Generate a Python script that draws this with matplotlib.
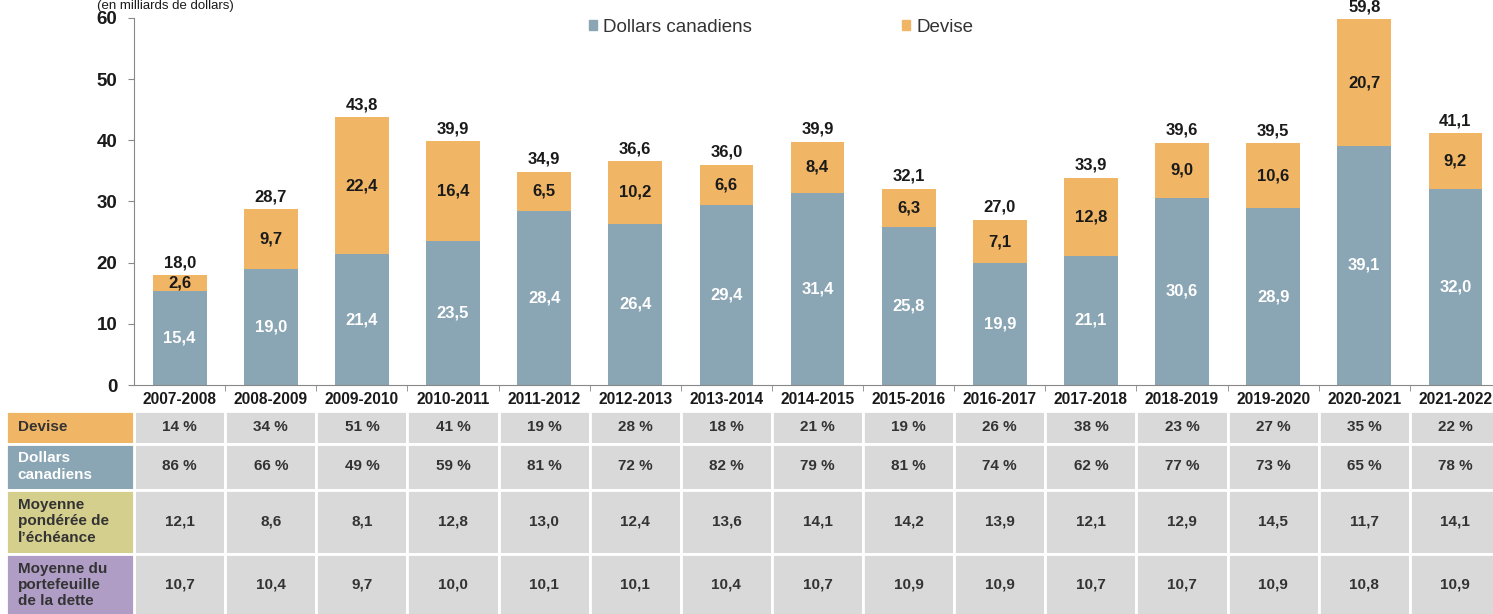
import numpy as np
import matplotlib
matplotlib.use('Agg')
import matplotlib.pyplot as plt
from matplotlib.patches import Patch, Rectangle

plt.rcParams['font.family'] = ['Liberation Sans', 'DejaVu Sans']

# ---------------------------------------------------------------------------
# Data
# ---------------------------------------------------------------------------
years = ['2007-2008', '2008-2009', '2009-2010', '2010-2011', '2011-2012',
         '2012-2013', '2013-2014', '2014-2015', '2015-2016', '2016-2017',
         '2017-2018', '2018-2019', '2019-2020', '2020-2021', '2021-2022']
cad = [15.4, 19.0, 21.4, 23.5, 28.4, 26.4, 29.4, 31.4, 25.8, 19.9,
       21.1, 30.6, 28.9, 39.1, 32.0]
devise = [2.6, 9.7, 22.4, 16.4, 6.5, 10.2, 6.6, 8.4, 6.3, 7.1,
          12.8, 9.0, 10.6, 20.7, 9.2]
totals = [18.0, 28.7, 43.8, 39.9, 34.9, 36.6, 36.0, 39.9, 32.1, 27.0,
          33.9, 39.6, 39.5, 59.8, 41.1]

pct_devise = [14, 34, 51, 41, 19, 28, 18, 21, 19, 26, 38, 23, 27, 35, 22]
pct_cad = [86, 66, 49, 59, 81, 72, 82, 79, 81, 74, 62, 77, 73, 65, 78]
echeance = [12.1, 8.6, 8.1, 12.8, 13.0, 12.4, 13.6, 14.1, 14.2, 13.9,
            12.1, 12.9, 14.5, 11.7, 14.1]
portefeuille = [10.7, 10.4, 9.7, 10.0, 10.1, 10.1, 10.4, 10.7, 10.9, 10.9,
                10.7, 10.7, 10.9, 10.8, 10.9]

row_labels = ['Devise', 'Dollars\ncanadiens',
              'Moyenne\npondérée de\nl\u2019échéance',
              'Moyenne du\nportefeuille\nde la dette']

C_CAD = '#8aa5b3'
C_DEV = '#f0b665'
C_CELL = '#d9d9d9'
HEAD_COLORS = [C_DEV, C_CAD, '#d5cf8e', '#af9dc6']
HEAD_TEXT = ['#333333', 'white', '#333333', '#333333']
TXT = '#1a1a1a'

fmt = lambda v: f'{v:.1f}'.replace('.', ',')

# ---------------------------------------------------------------------------
# Figure geometry (pixels -> fractions)
# ---------------------------------------------------------------------------
W, H = 1493, 614
fig = plt.figure(figsize=(W / 100, H / 100), dpi=100)

x0_px, x1_px = 134.1, 1501.0
y0_px, y60_px = 385.0, 18.0
ax = fig.add_axes([x0_px / W, 1 - y0_px / H,
                   (x1_px - x0_px) / W, (y0_px - y60_px) / H])

x = np.arange(len(years))
bw = 0.59
ax.bar(x, cad, width=bw, color=C_CAD, zorder=2)
ax.bar(x, devise, width=bw, bottom=cad, color=C_DEV, zorder=2)

for i in range(len(years)):
    ax.text(x[i], cad[i] / 2, fmt(cad[i]), ha='center', va='center',
            color='white', fontsize=12, fontweight='bold', zorder=3)
    ax.text(x[i], cad[i] + devise[i] / 2, fmt(devise[i]), ha='center',
            va='center', color=TXT, fontsize=12, fontweight='bold', zorder=3)
    ax.annotate(fmt(totals[i]), (x[i], totals[i]), xytext=(0, 3.5),
                textcoords='offset points', ha='center', va='bottom',
                color=TXT, fontsize=12, fontweight='bold',
                annotation_clip=False)

ax.set_xlim(-0.5, len(years) - 0.5)
ax.set_ylim(0, 60)
ax.set_yticks(np.arange(0, 61, 10))
ax.tick_params(axis='y', labelsize=13.5, length=4, color='#888888',
               pad=8, labelcolor=TXT)
for lab in ax.get_yticklabels():
    lab.set_fontweight('bold')
ax.set_xticks(x)
ax.set_xticklabels(years, fontsize=11.2, fontweight='bold', color=TXT)
ax.tick_params(axis='x', length=0, pad=5)
ax.set_xticks(x[:-1] + 0.5, minor=True)
ax.tick_params(axis='x', which='minor', length=4, color='#888888')
for s in ['top', 'right']:
    ax.spines[s].set_visible(False)
for s in ['left', 'bottom']:
    ax.spines[s].set_color('#888888')

# units label at the top-left corner
fig.text(97 / W, 1 - 0.5 / H, '(en milliards de dollars)', ha='left',
         va='top', fontsize=9.5, color=TXT)

# legend
handles = [Patch(color=C_CAD, label='Dollars canadiens'),
           Patch(color=C_DEV, label='Devise')]
fig.legend(handles=handles, loc='center left',
           bbox_to_anchor=(589 / W, 1 - 27 / H), ncol=2, frameon=False,
           fontsize=13.5, handlelength=0.45, handleheight=0.45,
           handletextpad=0.3, columnspacing=8.0, labelcolor='#333333',
           borderaxespad=0, borderpad=0)

# ---------------------------------------------------------------------------
# Table under the chart (same x scale as the bars)
# ---------------------------------------------------------------------------
t_left_px, t_top_px = 6.0, 411.0
unit = (x1_px - x0_px) / len(years)
tab = fig.add_axes([t_left_px / W, 0, (x1_px - t_left_px) / W,
                    1 - t_top_px / H])
tab.set_xlim(-0.5 - (x0_px - t_left_px) / unit, len(years) - 0.5)
tab.set_ylim(H, t_top_px)
tab.axis('off')

row_top = [411.0, 443.5, 489.5, 553.5]
row_bot = [443.5, 489.5, 553.5, 616.0]
row_vals = [[f'{v} %' for v in pct_devise],
            [f'{v} %' for v in pct_cad],
            [fmt(v) for v in echeance],
            [fmt(v) for v in portefeuille]]

head_x0 = tab.get_xlim()[0]
for r in range(4):
    hgt = row_bot[r] - row_top[r]
    tab.bar(x, -hgt, width=1.0, bottom=row_bot[r], color=C_CELL,
            edgecolor='white', linewidth=2)
    tab.add_patch(Rectangle((head_x0, row_top[r]), -0.5 - head_x0, hgt,
                            facecolor=HEAD_COLORS[r], edgecolor='white',
                            linewidth=2))
    ymid = (row_top[r] + row_bot[r]) / 2
    tab.text(head_x0 + 0.13, ymid, row_labels[r], ha='left', va='center',
             fontsize=11, fontweight='bold', color=HEAD_TEXT[r],
             linespacing=1.2)
    for i in range(len(years)):
        tab.text(x[i], ymid, row_vals[r][i], ha='center', va='center',
                 fontsize=11, fontweight='bold', color='#333333')

fig.savefig('out.png', dpi=100)
